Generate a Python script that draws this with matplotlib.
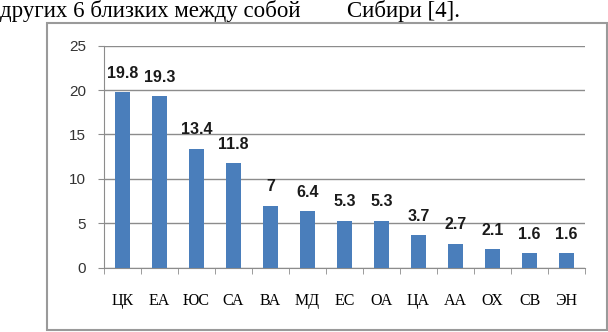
import matplotlib.pyplot as plt
import matplotlib.patches as patches
import numpy as np

categories = ["ЦК", "ЕА", "ЮС", "СА", "ВА", "МД", "ЕС", "ОА", "ЦА", "АА", "ОХ", "СВ", "ЭН"]
values = [19.8, 19.3, 13.4, 11.8, 7, 6.4, 5.3, 5.3, 3.7, 2.7, 2.1, 1.6, 1.6]
value_labels = ["19.8", "19.3", "13.4", "11.8", "7", "6.4", "5.3", "5.3", "3.7", "2.7", "2.1", "1.6", "1.6"]
y_ticks = [0, 5, 10, 15, 20, 25]

W, H = 608, 332
fig = plt.figure(figsize=(W / 100, H / 100), dpi=100)
fig.patch.set_facecolor("white")

# text line from the page above the chart
fig.text(0.0, 1 - 17 / H, "других 6 близких между собой", family="Liberation Serif",
         fontsize=16.5, va="baseline", ha="left", color="black")
fig.text(347 / W, 1 - 17 / H, "Сибири [4].", family="Liberation Serif",
         fontsize=16.5, va="baseline", ha="left", color="black")

# chart frame
fig.patches.append(patches.Rectangle((47 / W, 2 / H), 560 / W, 307 / H,
                                     transform=fig.transFigure, fill=False,
                                     edgecolor="#9a9a9a", linewidth=1.5))

ax = fig.add_axes([104 / W, (H - 267.7) / H, 481 / W, 222 / H])
x = np.arange(len(categories))
ax.bar(x, values, width=0.4, color="#4a7ebb", zorder=3)

for xi, v, lab in zip(x, values, value_labels):
    ax.annotate(lab, (xi, v), xytext=(0, 13.5), textcoords="offset points",
                ha="center", va="center", fontsize=11.5, fontweight="bold",
                family="Liberation Sans", color="#1a1a1a")

ax.set_xlim(-0.5, len(categories) - 0.5)
ax.set_ylim(0, 25)
ax.set_yticks(y_ticks)
ax.set_yticklabels([str(t) for t in y_ticks], family="Liberation Sans", fontsize=11, color="#333333")
ax.yaxis.grid(True, color="#8c8c8c", linewidth=1, zorder=0)
ax.tick_params(axis="y", direction="out", length=4, color="#8c8c8c", pad=9)

ax.set_xticks(x)
ax.set_xticklabels(categories, family="Liberation Serif", fontsize=11.5, color="black")
ax.set_xticks(np.arange(len(categories) + 1) - 0.5, minor=True)
ax.tick_params(axis="x", which="major", length=0, pad=18)
ax.tick_params(axis="x", which="minor", direction="out", length=4, color="#8c8c8c")

for s in ["top", "right"]:
    ax.spines[s].set_visible(False)
for s in ["left", "bottom"]:
    ax.spines[s].set_color("#8c8c8c")

fig.savefig("out.png", dpi=100)
